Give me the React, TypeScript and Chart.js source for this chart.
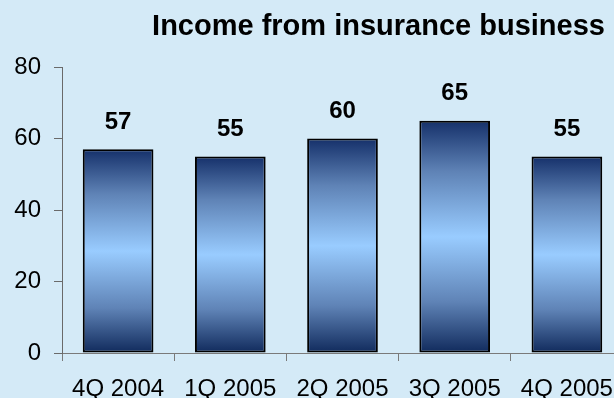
import React, { useEffect, useRef } from "react";
import { Chart, registerables } from "chart.js";

Chart.register(...registerables);

const TITLE = "Income from insurance business";
const CATEGORIES = ["4Q 2004", "1Q 2005", "2Q 2005", "3Q 2005", "4Q 2005"];
const VALUES = [57, 55, 60, 65, 55];
const Y_MIN = 0;
const Y_MAX = 80;
const Y_STEP = 20;

const FONT = "'Liberation Sans', Arial, sans-serif";
const BG = "#D4EAF7";

export default function App() {
  const ref = useRef<HTMLCanvasElement | null>(null);

  useEffect(() => {
    if (!ref.current) return;

    const titlePlugin = {
      id: "customTitle",
      afterDraw(chart: any) {
        const ctx = chart.ctx;
        ctx.save();
        ctx.font = `bold 29px ${FONT}`;
        ctx.fillStyle = "#000";
        ctx.textAlign = "center";
        ctx.textBaseline = "alphabetic";
        ctx.fillText(TITLE, 378.5, 34.5);
        ctx.restore();
      },
    };

    const labelPlugin = {
      id: "valueLabels",
      afterDatasetsDraw(chart: any) {
        const ctx = chart.ctx;
        const meta = chart.getDatasetMeta(0);
        ctx.save();
        ctx.font = `bold 24px ${FONT}`;
        ctx.fillStyle = "#000";
        ctx.textAlign = "center";
        ctx.textBaseline = "middle";
        meta.data.forEach((bar: any, i: number) => {
          ctx.fillText(String(VALUES[i]), bar.x, bar.y - 27);
        });
        ctx.restore();
      },
    };

    const chart = new Chart(ref.current, {
      type: "bar",
      data: {
        labels: CATEGORIES,
        datasets: [
          {
            data: VALUES,
            backgroundColor: (c: any) => {
              const ch = c.chart;
              const ys = ch.scales?.y;
              if (!ys || c.raw == null) return "#99CCFF";
              const top = ys.getPixelForValue(c.raw);
              const bot = ys.getPixelForValue(0);
              if (!isFinite(top) || !isFinite(bot) || top === bot) return "#99CCFF";
              const g = ch.ctx.createLinearGradient(0, top, 0, bot);
              g.addColorStop(0, "#15306A");
              g.addColorStop(0.22, "#5F83B6");
              g.addColorStop(0.5, "#99CCFF");
              g.addColorStop(0.78, "#5F83B6");
              g.addColorStop(1, "#102A5C");
              return g;
            },
            borderColor: "#000000",
            borderWidth: 2,
            borderSkipped: false,
            barPercentage: 0.63,
            categoryPercentage: 1,
          },
        ],
      },
      options: {
        animation: false,
        responsive: true,
        maintainAspectRatio: false,
        layout: { padding: { top: 67, left: 0, right: 7, bottom: 0 } },
        plugins: {
          legend: { display: false },
          title: { display: false },
          tooltip: { enabled: false },
        },
        scales: {
          x: {
            grid: {
              display: true,
              drawOnChartArea: false,
              drawTicks: true,
              tickLength: 8,
              color: "#7A7A7A",
              offset: true,
            },
            border: { display: true, color: "#7A7A7A", width: 1 },
            ticks: {
              color: "#000",
              font: { family: FONT, size: 24 },
              padding: 14,
              maxRotation: 0,
              autoSkip: false,
            },
            afterFit: (s: any) => {
              s.height = 45;
            },
          },
          y: {
            min: Y_MIN,
            max: Y_MAX,
            grid: {
              display: true,
              drawOnChartArea: false,
              drawTicks: true,
              tickLength: 8,
              color: "#6A6A6A",
            },
            border: { display: true, color: "#6A6A6A", width: 1 },
            ticks: {
              stepSize: Y_STEP,
              color: "#000",
              font: { family: FONT, size: 24 },
              padding: 13,
            },
            afterFit: (s: any) => {
              s.width = 62;
            },
          },
        },
      },
      plugins: [titlePlugin, labelPlugin],
    });

    return () => chart.destroy();
  }, []);

  return (
    <div
      style={{
        position: "fixed",
        left: 0,
        top: 0,
        width: 614,
        height: 398,
        overflow: "hidden",
        background: BG,
      }}
    >
      <div style={{ position: "relative", width: 630, height: 398 }}>
        <canvas ref={ref} />
      </div>
    </div>
  );
}
